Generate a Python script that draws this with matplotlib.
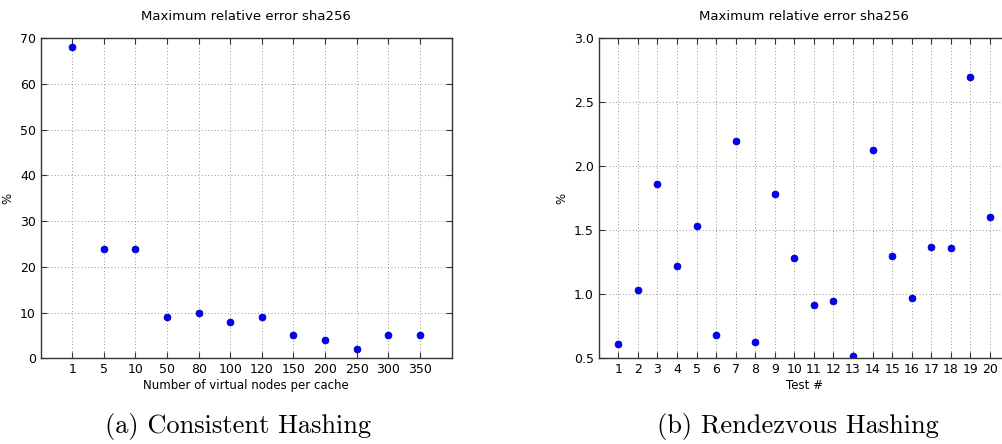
import matplotlib.pyplot as plt

# consistent hashing: max relative error per number of virtual nodes
vnodes = ["1", "5", "10", "50", "80", "100", "120", "150", "200", "250", "300", "350"]
ch_error = [68, 24, 24, 9, 10, 8, 9, 5, 4, 2, 5, 5]

# rendezvous hashing: max relative error per test run
tests = list(range(1, 21))
rh_error = [0.61, 1.03, 1.86, 1.22, 1.53, 0.68, 2.20, 0.63, 1.78, 1.28,
            0.92, 0.95, 0.52, 2.13, 1.30, 0.97, 1.37, 1.36, 2.70, 1.60]

fig = plt.figure(figsize=(10.02, 4.44), dpi=100)


def style_axes(ax):
    ax.grid(True, color="0.45", linestyle=(0, (1, 3)), linewidth=0.6)
    ax.tick_params(direction="in", top=True, right=True, labelsize=9, length=4,
                   color="0.2")
    ax.set_title("Maximum relative error sha256", fontsize=9.5, pad=13)
    ax.set_ylabel("%", fontsize=8.5)
    for s in ax.spines.values():
        s.set_linewidth(1.0)
        s.set_color("0.2")


# left chart
ax1 = fig.add_axes([0.0406, 0.193, 0.410, 0.721])
pos = list(range(1, len(vnodes) + 1))
ax1.plot(pos, ch_error, "o", color="b", markersize=5, markeredgecolor="#0000a0", markeredgewidth=0.5)
ax1.set_xlim(0, 13)
ax1.set_ylim(0, 70)
ax1.set_xticks(pos)
ax1.set_xticklabels(vnodes)
ax1.set_yticks(range(0, 71, 10))
ax1.set_xlabel("Number of virtual nodes per cache", fontsize=8.5, labelpad=2)
style_axes(ax1)

# right chart (runs off the right edge like the original)
ax2 = fig.add_axes([0.5975, 0.193, 0.410, 0.721])
ax2.plot(tests, rh_error, "o", color="b", markersize=5, markeredgecolor="#0000a0", markeredgewidth=0.5)
ax2.set_xlim(0, 21)
ax2.set_ylim(0.5, 3.0)
ax2.set_xticks(tests)
ax2.set_yticks([0.5, 1.0, 1.5, 2.0, 2.5, 3.0])
ax2.set_xlabel("Test #", fontsize=8.5, labelpad=2)
style_axes(ax2)

# sub-captions
fig.text(0.2375, 0.025, "(a) Consistent Hashing", family="cmr10", fontsize=19, ha="center")
fig.text(0.7965, 0.025, "(b) Rendezvous Hashing", family="cmr10", fontsize=19, ha="center")

fig.savefig("out.png", dpi=100, facecolor="white")
